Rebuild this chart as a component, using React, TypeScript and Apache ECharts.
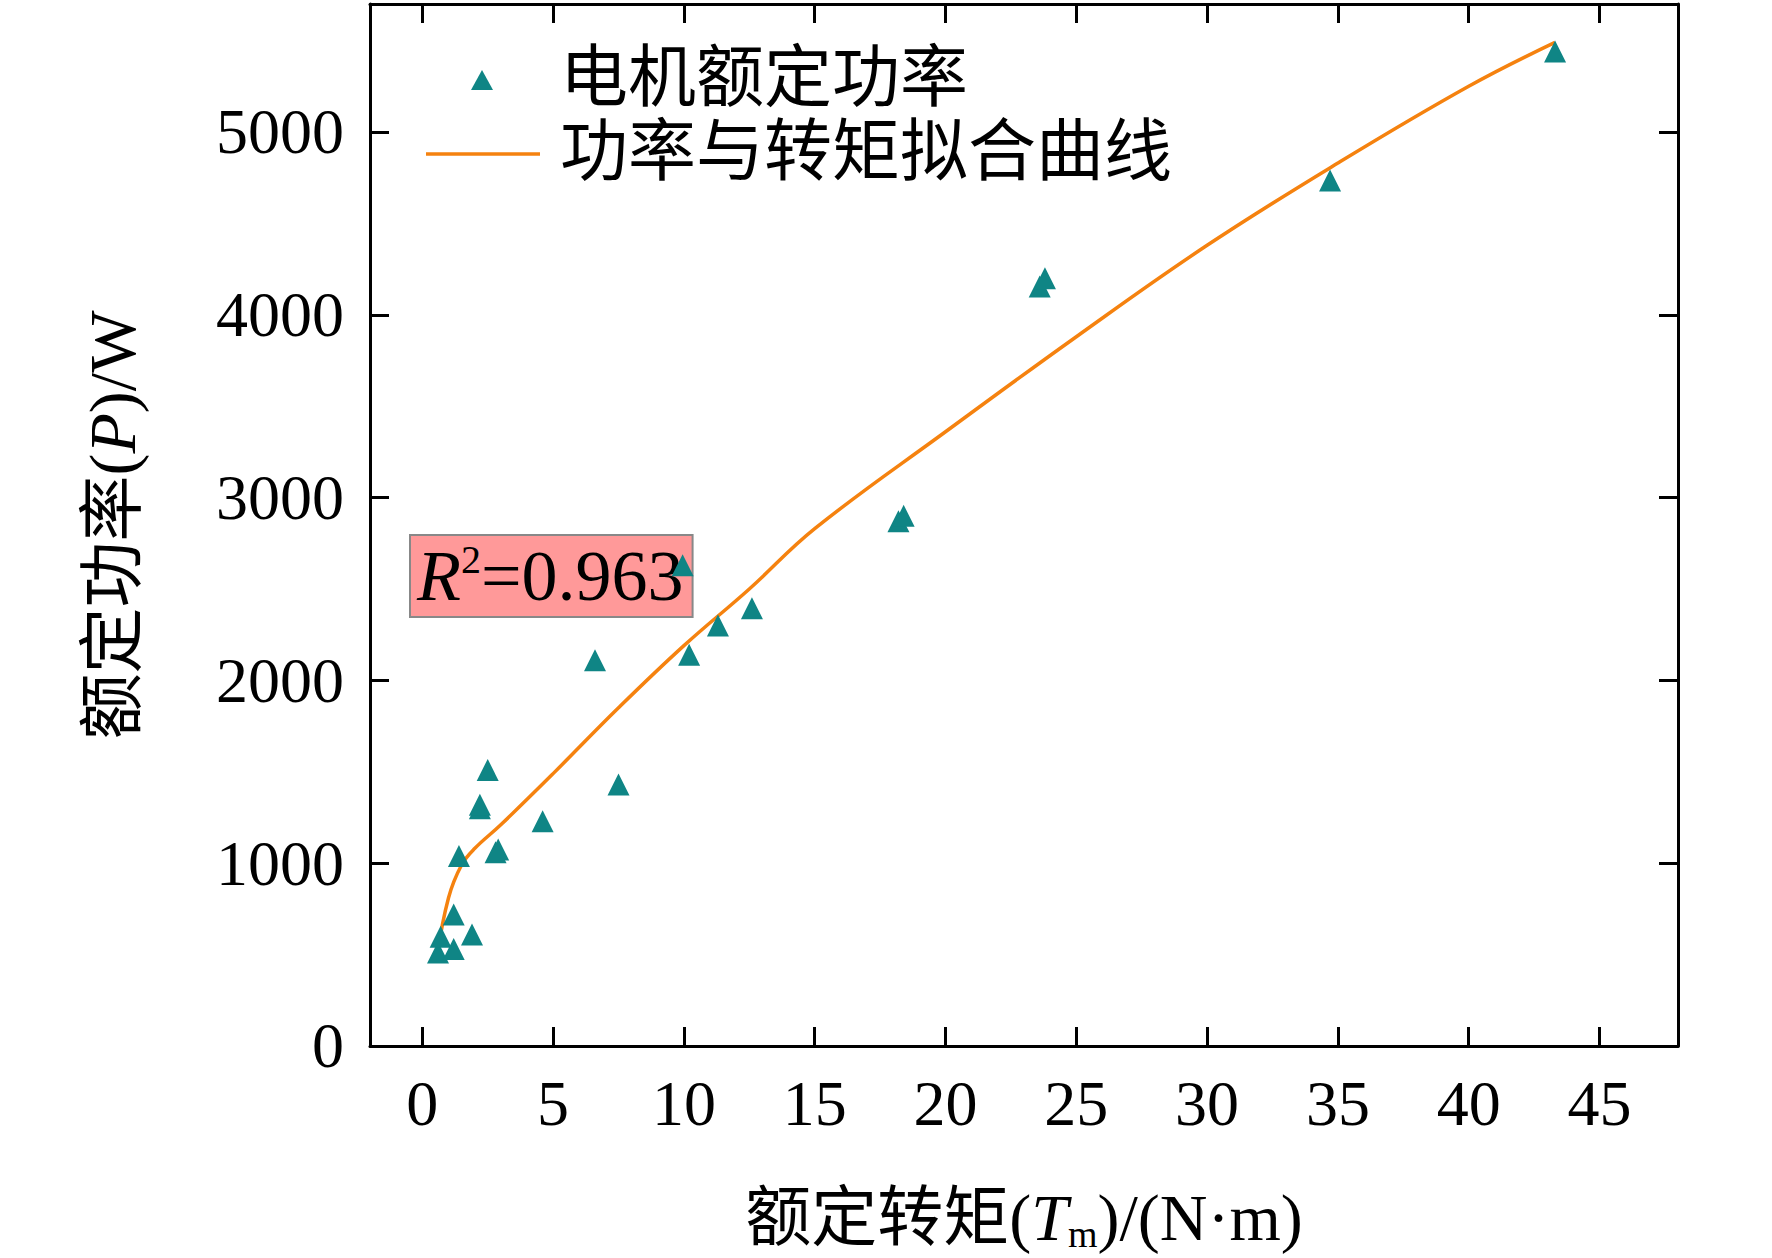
import React, { useEffect, useRef } from 'react';
import * as echarts from 'echarts';

const torque = [0.6, 0.7, 1.2, 1.2, 1.9, 1.4, 2.2, 2.2, 2.5, 2.8, 2.9, 4.6, 6.6, 7.5, 9.95, 10.2, 11.3, 12.6, 18.2, 18.4, 23.6, 23.8, 34.7, 43.3];
const power = [511, 597, 530, 720, 610, 1040, 1300, 1320, 1510, 1060, 1075, 1230, 2110, 1430, 2630, 2140, 2300, 2395, 2870, 2900, 4155, 4200, 4735, 5440];

const fitT = [0.56, 1, 1.5, 2, 3, 5, 7.5, 10, 12.5, 15, 20, 25, 30, 35, 40, 43.3];
const fitP = [490, 810, 990, 1080, 1210, 1490, 1850, 2190, 2500, 2830, 3360, 3880, 4380, 4830, 5250, 5490];

const xTicks = [0, 5, 10, 15, 20, 25, 30, 35, 40, 45];

const FONT = '"Liberation Serif", "Noto Sans CJK SC", serif';
const TEAL = '#0f8585';
const ORANGE = '#f5820f';

const App: React.FC = () => {
  const chartRef = useRef<HTMLDivElement | null>(null);

  useEffect(() => {
    document.body.style.margin = '0';
    if (!chartRef.current) return;
    const chart = echarts.init(chartRef.current, undefined, { renderer: 'svg' });

    const axisLine = { show: true, onZero: false, lineStyle: { color: '#000', width: 3 } };
    const tick = { show: true, inside: true, length: 19, lineStyle: { color: '#000', width: 3 } };

    chart.setOption({
      animation: false,
      backgroundColor: '#fff',
      textStyle: { fontFamily: FONT },
      grid: { left: 370, right: 94, top: 4, bottom: 195 },
      xAxis: [
        {
          type: 'value', min: -2, max: 48,
          axisLine, axisTick: { ...tick, customValues: xTicks }, splitLine: { show: false },
          axisLabel: { customValues: xTicks, color: '#000', fontSize: 64, fontFamily: FONT, margin: 26 },
          name: '额定转矩({i|T}{sub|m})/(N·m)', nameLocation: 'middle', nameGap: 135,
          nameTextStyle: {
            color: '#000', fontSize: 66, fontFamily: FONT,
            rich: {
              i: { fontStyle: 'italic', fontSize: 66, fontFamily: FONT },
              sub: { fontSize: 38, fontFamily: FONT, verticalAlign: 'bottom', padding: [34, 0, 0, 0] },
            },
          },
        },
        {
          type: 'value', position: 'top', min: -2, max: 48,
          axisLine, axisTick: { ...tick, customValues: xTicks }, axisLabel: { show: false }, splitLine: { show: false },
        },
      ],
      yAxis: [
        {
          type: 'value', min: 0, max: 5700, interval: 1000,
          axisLine, axisTick: tick, splitLine: { show: false },
          axisLabel: {
            color: '#000', fontSize: 64, fontFamily: FONT, margin: 26,
            showMaxLabel: false, formatter: (v: number) => String(v),
          },
          name: '额定功率({i|P})/W', nameLocation: 'middle', nameGap: 225, nameRotate: 90,
          nameTextStyle: {
            color: '#000', fontSize: 66, fontFamily: FONT,
            rich: { i: { fontStyle: 'italic', fontSize: 66, fontFamily: FONT } },
          },
        },
        {
          type: 'value', position: 'right', min: 0, max: 5700, interval: 1000,
          axisLine, axisTick: tick, axisLabel: { show: false }, splitLine: { show: false },
        },
      ],
      series: [
        {
          name: '功率与转矩拟合曲线', type: 'line', smooth: 0.4, showSymbol: false,
          data: fitT.map((t, i) => [t, fitP[i]]),
          lineStyle: { color: ORANGE, width: 3.5 }, z: 2,
        },
        {
          name: '电机额定功率', type: 'scatter', symbol: 'triangle', symbolSize: 22,
          data: torque.map((t, i) => [t, power[i]]),
          itemStyle: { color: TEAL, opacity: 1 }, z: 3,
        },
      ],
      graphic: [
        { type: 'polygon', shape: { points: [[482, 70], [471, 90], [493, 90]] }, style: { fill: TEAL } },
        { type: 'text', left: 560, top: 44, style: { text: '电机额定功率', font: `68px ${FONT}`, fill: '#000' } },
        { type: 'line', shape: { x1: 426, y1: 154, x2: 540, y2: 154 }, style: { stroke: ORANGE, lineWidth: 3.5 } },
        { type: 'text', left: 560, top: 118, style: { text: '功率与转矩拟合曲线', font: `68px ${FONT}`, fill: '#000' } },
        {
          type: 'text', left: 409, top: 534,
          style: {
            text: '{i|R}{sup|2}=0.963',
            font: `72px ${FONT}`, fill: '#000',
            backgroundColor: '#ff9999', borderColor: '#888', borderWidth: 2,
            padding: [4, 8, 4, 6],
            rich: {
              i: { fontStyle: 'italic', fontSize: 72, fontFamily: FONT },
              sup: { fontSize: 40, fontFamily: FONT, verticalAlign: 'top', padding: [0, 0, 30, 0] },
            },
          },
        },
      ],
    });

    return () => chart.dispose();
  }, []);

  return <div ref={chartRef} style={{ width: 1772, height: 1258 }} />;
};

export default App;
